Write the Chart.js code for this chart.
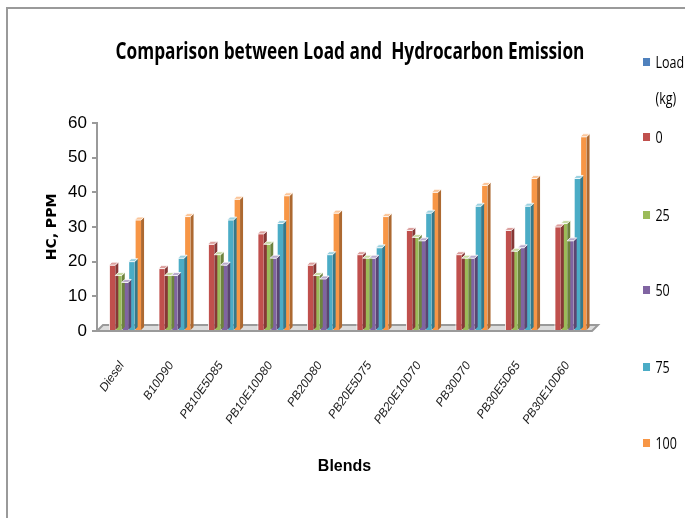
<!DOCTYPE html>
<html>
<head>
<meta charset="utf-8">
<script src="https://cdn.jsdelivr.net/npm/chart.js@4"></script>
<style>
  html, body { margin: 0; padding: 0; background: #fff; }
  #wrap { position: relative; width: 685px; height: 518px; overflow: hidden; }
  #frame { position: absolute; left: 6px; top: 7px; width: 700px; height: 530px;
           border-top: 2px solid #9a9a9a; border-left: 2px solid #9a9a9a; }
  canvas { position: absolute; left: 0; top: 0; }
  #title { position: absolute; left: 0; width: 700px; top: 34px; text-align: center;
           font: bold 23px "Open Sans", sans-serif; color: #000; white-space: pre;
           transform: scaleX(0.75); transform-origin: 350px 0; }
  .lg { position: absolute; left: 643px; font: 16px "Open Sans", sans-serif; color: #000;
        line-height: 36px; transform: scaleX(0.78); transform-origin: 0 0; }
  .lg i { position: absolute; left: 0; top: 14px; width: 9px; height: 8px; }
  .lg span { display: block; margin-left: 16px; }
</style>
</head>
<body>
<div id="wrap">
  <div id="frame"></div>
  <canvas id="hcChart" width="685" height="518"></canvas>
  <div id="title">Comparison between Load and  Hydrocarbon Emission</div>
  <div id="legend"></div>
</div>
<script>
const blends = ['Diesel', 'B10D90', 'PB10E5D85', 'PB10E10D80', 'PB20D80', 'PB20E5D75',
                'PB20E10D70', 'PB30D70', 'PB30E5D65', 'PB30E10D60'];
const loadKg = [0, 0, 0, 0, 0, 0, 0, 0, 0, 0];
const load0 = [19, 18, 25, 28, 19, 22, 29, 22, 29, 30];
const load25 = [16, 16, 22, 25, 16, 21, 27, 21, 23, 31];
const load50 = [14, 16, 19, 21, 15, 21, 26, 21, 24, 26];
const load75 = [20, 21, 32, 31, 22, 24, 34, 36, 36, 44];
const load100 = [32, 33, 38, 39, 34, 33, 40, 42, 44, 56];
const yTicks = [0, 10, 20, 30, 40, 50, 60];

const series = [
    { label: 'Load (kg)', data: loadKg, color: '#4F81BD' },
    { label: '0', data: load0, color: '#C0504D' },
    { label: '25', data: load25, color: '#9BBB59' },
    { label: '50', data: load50, color: '#8064A2' },
    { label: '75', data: load75, color: '#4BACC6' },
    { label: '100', data: load100, color: '#F79646' }
];
const legendTops = [44, 119, 197, 272, 349, 425];

const cond = '"Liberation Sans", sans-serif';

// html legend on the right
const legendBox = document.getElementById('legend');
series.forEach((s, i) => {
    const d = document.createElement('div');
    d.className = 'lg';
    d.style.top = legendTops[i] + 'px';
    const txt = s.label === 'Load (kg)' ? 'Load<br>(kg)' : s.label;
    d.innerHTML = '<i style="background:' + s.color + '"></i><span>' + txt + '</span>';
    legendBox.appendChild(d);
});

function shade(hex, f) {
    const n = parseInt(hex.slice(1), 16);
    let r = (n >> 16) & 255, g = (n >> 8) & 255, b = n & 255;
    if (f < 0) { r = r * (1 + f); g = g * (1 + f); b = b * (1 + f); }
    else { r = r + (255 - r) * f; g = g + (255 - g) * f; b = b + (255 - b) * f; }
    return 'rgb(' + Math.round(r) + ',' + Math.round(g) + ',' + Math.round(b) + ')';
}

// grey floor under the bars
const floorPlugin = {
    id: 'floor',
    beforeDatasetsDraw(chart) {
        const a = chart.chartArea;
        const c = chart.ctx;
        const d = 6;
        c.save();
        c.beginPath();
        c.moveTo(a.left, a.bottom);
        c.lineTo(a.left + d, a.bottom - d);
        c.lineTo(a.right + d, a.bottom - d);
        c.lineTo(a.right, a.bottom);
        c.closePath();
        c.fillStyle = '#dcdcdc';
        c.fill();
        c.strokeStyle = '#9a9a9a';
        c.lineWidth = 2;
        c.stroke();
        c.restore();
    }
};

// fake depth on every bar
const depthPlugin = {
    id: 'depth',
    afterDatasetsDraw(chart) {
        const c = chart.ctx;
        const d = 3;
        chart.data.datasets.forEach((ds, i) => {
            chart.getDatasetMeta(i).data.forEach((bar, j) => {
                if (!ds.data[j]) return;
                const p = bar.getProps(['x', 'y', 'base', 'width'], true);
                const l = p.x - p.width / 2, r = p.x + p.width / 2;
                c.save();
                c.fillStyle = shade(ds.backgroundColor, -0.3);
                c.beginPath();
                c.moveTo(r, p.y);
                c.lineTo(r + d, p.y - d);
                c.lineTo(r + d, p.base - d);
                c.lineTo(r, p.base);
                c.closePath();
                c.fill();
                c.fillStyle = shade(ds.backgroundColor, 0.45);
                c.beginPath();
                c.moveTo(l, p.y);
                c.lineTo(l + d, p.y - d);
                c.lineTo(r + d, p.y - d);
                c.lineTo(r, p.y);
                c.closePath();
                c.fill();
                c.strokeStyle = '#ffffff';
                c.lineWidth = 0.8;
                c.stroke();
                c.restore();
            });
        });
    }
};

const ctx = document.getElementById('hcChart').getContext('2d');
new Chart(ctx, {
    type: 'bar',
    data: {
        labels: blends,
        datasets: series.map(s => ({
            label: s.label,
            data: s.data,
            backgroundColor: s.color,
            borderColor: '#ffffff',
            borderWidth: { left: 1, right: 0, top: 0, bottom: 0 },
            borderSkipped: false,
            categoryPercentage: 0.78,
            barPercentage: 1.0
        }))
    },
    options: {
        responsive: false,
        animation: false,
        layout: { padding: { left: 44, right: 93, top: 123, bottom: 40 } },
        scales: {
            x: {
                grid: { display: false },
                border: { display: false },
                ticks: {
                    minRotation: 55,
                    maxRotation: 55,
                    padding: 20,
                    color: '#222',
                    font: { family: cond, size: 12, style: 'italic' }
                },
                title: {
                    display: true,
                    text: 'Blends',
                    color: '#000',
                    padding: { top: 0, bottom: 2 },
                    font: { family: cond, size: 16, weight: 'bold' }
                },
                afterFit(scale) { scale.height = 147; }
            },
            y: {
                min: 0,
                max: 60,
                afterBuildTicks(scale) { scale.ticks = yTicks.map(v => ({ value: v })); },
                grid: {
                    drawOnChartArea: false,
                    drawTicks: true,
                    tickLength: 5,
                    color: '#9a9a9a',
                    lineWidth: 2
                },
                border: { display: true, color: '#9a9a9a', width: 2 },
                ticks: {
                    padding: 5,
                    color: '#000',
                    font: { family: cond, size: 17 }
                },
                title: {
                    display: true,
                    text: 'HC, PPM',
                    color: '#000',
                    padding: 0,
                    font: { family: '"DejaVu Sans", sans-serif', size: 14, weight: 'bold' }
                },
                afterFit(scale) { scale.width = 53; }
            }
        },
        plugins: {
            legend: { display: false },
            tooltip: { enabled: false }
        }
    },
    plugins: [floorPlugin, depthPlugin]
});
</script>
</body>
</html>
